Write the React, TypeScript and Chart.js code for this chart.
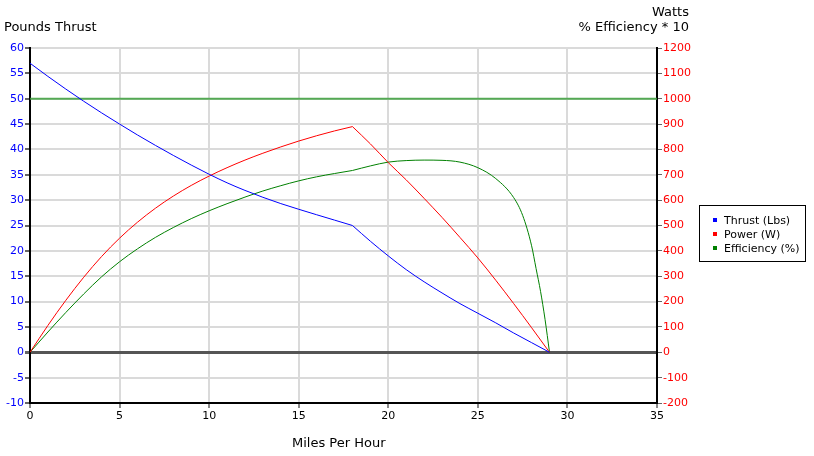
import React, { useEffect, useRef } from "react";
import { Chart, registerables } from "chart.js";

Chart.register(...registerables);

// Speeds (mph) up to the 18 mph break, and from it to 29 mph
const mphLow = [0, 1, 2, 3, 4, 5, 6, 7, 8, 9, 10, 11, 12, 13, 14, 15, 16, 17, 18];
const mphHigh = [18, 19, 20, 21, 22, 23, 24, 25, 26, 27, 28, 29];
// Thrust (lbs), left axis
const thrustLow = [57, 54.4, 51.9, 49.5, 47.2, 45.0, 42.85, 40.8, 38.82, 36.92, 35.1, 33.42, 31.92, 30.56, 29.32, 28.2, 27.12, 26.06, 25.0];
const thrustHigh = [25.0, 21.9, 19.0, 16.3, 13.9, 11.7, 9.6, 7.7, 5.8, 3.8, 1.9, 0];
// Power (W), right axis
const powerLow = [0, 106, 205, 296, 378, 450, 513, 568, 616, 658, 695, 728, 758, 785, 810, 833, 854, 873, 890];
const powerHigh = [890, 822, 748, 680, 607, 532, 453, 372, 284, 192, 97, 0];
// Efficiency * 10, right axis
const effMphLow = [0, 1, 2, 3, 4, 5, 6, 7, 8, 9, 10, 11, 12, 13, 14, 15, 16, 17, 18];
const effLow = [0, 80, 157, 230, 298, 357, 408, 453, 492, 527, 558, 586, 612, 636, 657, 676, 692, 705, 717];
const effMphHigh = [18, 19, 20, 21, 22, 23, 24, 25, 26, 27, 27.5, 28, 28.25, 28.5, 28.75, 29];
const effHigh = [717, 735, 750, 756, 758, 757, 750, 728, 685, 610, 540, 420, 330, 240, 130, 0];
// Reference limit line (right axis)
const limitX = [0, 35];
const limitY = [1000, 1000];

const seriesNames = ["Thrust (Lbs)", "Power (W)", "Efficiency (%)"];
const seriesColors = ["#0000ff", "#ff0000", "#008000"];

const FONT = "Tahoma, 'DejaVu Sans', sans-serif";

export default function App() {
  const ref = useRef<HTMLCanvasElement | null>(null);

  useEffect(() => {
    if (!ref.current) return;
    const pts = (xs: number[], ys: number[]) => xs.map((x, i) => ({ x, y: ys[i] }));
    const line = (label: string, xs: number[], ys: number[], color: string, axis: string) => ({
      label,
      data: pts(xs, ys),
      borderColor: color,
      backgroundColor: color,
      borderWidth: 1,
      pointRadius: 0,
      cubicInterpolationMode: "monotone" as const,
      yAxisID: axis,
    });
    const gridColor = (ctx: any) => (ctx.tick && ctx.tick.value === 0 ? "#555555" : "#dadada");
    const gridWidth = (ctx: any) => (ctx.tick && ctx.tick.value === 0 ? 3 : 2);
    const chart = new Chart(ref.current, {
      type: "line",
      data: {
        datasets: [
          line(seriesNames[0], mphLow, thrustLow, seriesColors[0], "y"),
          line(seriesNames[0], mphHigh, thrustHigh, seriesColors[0], "y"),
          line(seriesNames[1], mphLow, powerLow, seriesColors[1], "y2"),
          line(seriesNames[1], mphHigh, powerHigh, seriesColors[1], "y2"),
          line(seriesNames[2], effMphLow, effLow, seriesColors[2], "y2"),
          line(seriesNames[2], effMphHigh, effHigh, seriesColors[2], "y2"),
          {
            label: "limit",
            data: pts(limitX, limitY),
            borderColor: "rgba(60,160,60,0.85)",
            borderWidth: 2,
            pointRadius: 0,
            yAxisID: "y2",
          },
        ],
      },
      options: {
        responsive: false,
        animation: false,
        layout: { padding: { top: 48, left: 0, right: 0, bottom: 0 } },
        plugins: { legend: { display: false }, tooltip: { enabled: false } },
        scales: {
          x: {
            type: "linear",
            min: 0,
            max: 35,
            ticks: { stepSize: 5, color: "#000", font: { family: FONT, size: 11 }, padding: 2 },
            grid: { color: "#dadada", lineWidth: 2, tickColor: "#888", tickLength: 5 },
            border: { color: "#000", width: 2 },
            afterFit: (s: any) => { s.height = 53; },
          },
          y: {
            position: "left",
            min: -10,
            max: 60,
            ticks: { stepSize: 5, color: "#0000ff", font: { family: FONT, size: 11 }, padding: 1 },
            grid: { color: gridColor, lineWidth: gridWidth, tickColor: "#666", tickLength: 5 },
            border: { color: "#000", width: 2 },
            afterFit: (s: any) => { s.width = 30; },
          },
          y2: {
            position: "right",
            min: -200,
            max: 1200,
            ticks: {
              stepSize: 100,
              color: "#ff0000",
              font: { family: FONT, size: 11 },
              padding: 1,
              callback: (v: any) => String(v),
            },
            grid: { drawOnChartArea: false, tickColor: "#666", tickLength: 5 },
            border: { color: "#000", width: 2 },
            afterFit: (s: any) => { s.width = 157; },
          },
        },
      },
    });
    return () => chart.destroy();
  }, []);

  const text: React.CSSProperties = { position: "absolute", fontFamily: FONT, fontSize: 13, color: "#000", whiteSpace: "nowrap", lineHeight: "15px" };

  return (
    <div style={{ position: "fixed", left: 0, top: 0, width: 814, height: 456, background: "#fff" }}>
      <canvas ref={ref} width={814} height={456} style={{ position: "absolute", left: 0, top: 0 }} />
      <div style={{ ...text, left: 4, top: 19 }}>Pounds Thrust</div>
      <div style={{ ...text, right: 814 - 689, top: 4, textAlign: "right" }}>Watts</div>
      <div style={{ ...text, right: 814 - 689, top: 19, textAlign: "right" }}>% Efficiency * 10</div>
      <div style={{ ...text, left: 292, top: 435 }}>Miles Per Hour</div>
      <div
        style={{
          position: "absolute",
          left: 699,
          top: 205,
          width: 107,
          height: 57,
          border: "1px solid #000",
          boxSizing: "border-box",
          fontFamily: FONT,
          fontSize: 11,
          paddingTop: 7,
        }}
      >
        {seriesNames.map((n, i) => (
          <div key={n} style={{ display: "flex", alignItems: "center", height: 14, paddingLeft: 13 }}>
            <span style={{ display: "inline-block", width: 4, height: 4, background: seriesColors[i], marginRight: 7 }} />
            <span>{n}</span>
          </div>
        ))}
      </div>
    </div>
  );
}
